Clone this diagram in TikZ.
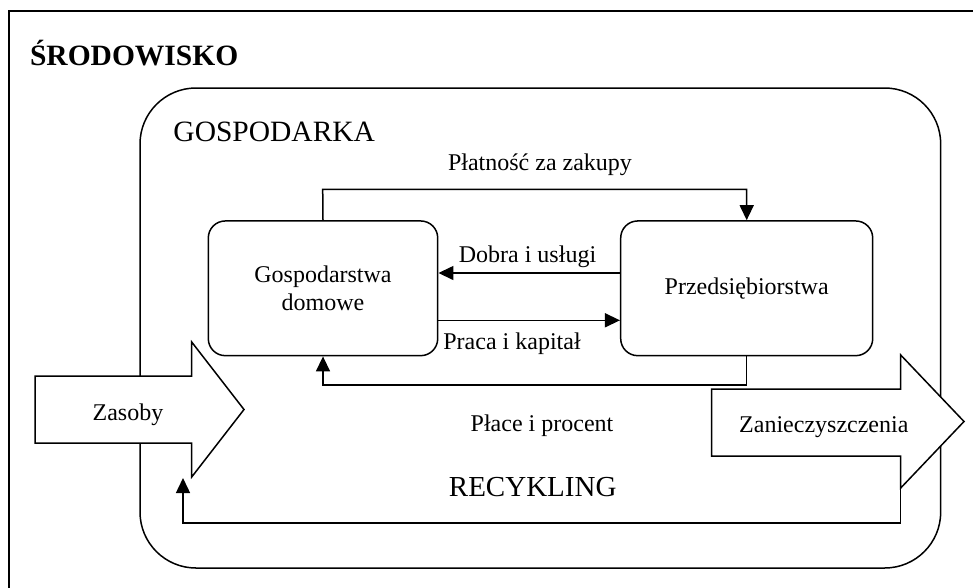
\documentclass[tikz,border=0pt]{standalone}
\usepackage{fontspec}
\setmainfont{Liberation Serif}
\usetikzlibrary{arrows.meta}
\begin{document}
\begin{tikzpicture}[x=1pt,y=-1pt, line width=1.5pt,
  box/.style={draw, rounded corners=17pt, minimum height=134.7pt, inner sep=0pt, align=center, font=\fontsize{24}{28}\selectfont},
  lbl/.style={anchor=base, inner sep=0pt, font=\fontsize{24}{28}\selectfont},
  big/.style={anchor=base west, inner sep=0pt, font=\fontsize{29.5}{34}\selectfont},
  flow/.style={-{Triangle[length=15pt,width=14pt]}},
  blockarrow/.style={draw, fill=white, line join=miter}]
\useasboundingbox (0,0) rectangle (973,587);
\clip (0,0) rectangle (973,587);
% environment frame
\draw (9,11) rectangle (1000,620);
\node[big, font=\fontsize{29.5}{34}\selectfont\bfseries] (env) at (29.3,65) {ŚRODOWISKO};
% economy
\node[draw, rounded corners=56pt, minimum width=800.7pt, minimum height=480pt, inner sep=0pt] (eco) at (540.35,328) {};
\node[big] (ecolbl) at (172.7,141.7) {GOSPODARKA};
% block arrows
\draw[blockarrow] (35,376) -- (191.7,376) -- (191.7,342) -- (244,409.5) -- (191.7,477) coordinate (zasHead) -- (191.7,443) -- (35,443) -- cycle;
\node[lbl] (zas) at (128,420) {Zasoby};
\draw[blockarrow] (711.7,389) -- (900.7,389) -- (900.7,355) -- (964,421.5) -- (900.7,488) coordinate (zanHead) -- (900.7,456) -- (711.7,456) -- cycle;
\node[lbl] (zan) at (823.8,432.7) {Zanieczyszczenia};
% boxes
\node[box, minimum width=229.4pt] (gd) at (323,288.3) {Gospodarstwa\\domowe};
\node[box, minimum width=252pt] (pb) at (746.7,288.3) {Przedsiębiorstwa};
% flows
\draw[flow] (gd.north) -- (322.7,189.3) -| (pb.north);
\node[lbl] (l1) at (540,170.7) {Płatność za zakupy};
\draw[flow] ([yshift=15.3pt]pb.west) -- ([yshift=15.3pt]gd.east);
\node[lbl] (l2) at (527.5,262.7) {Dobra i usługi};
\draw[flow] ([yshift=-32pt]gd.east) -- ([yshift=-32pt]pb.west);
\node[lbl] (l3) at (512,349) {Praca i kapitał};
\draw[flow] (pb.south) -- (746.7,385) -| (gd.south);
\node[lbl] (l4) at (542,431.7) {Płace i procent};
% recycling
\coordinate (recEnd) at (183,478);
\draw[flow] (zanHead) -- (900.7,523) -| (recEnd);
\node[lbl, font=\fontsize{29}{34}\selectfont] (rec) at (532.7,496.7) {RECYKLING};
\end{tikzpicture}
\end{document}
